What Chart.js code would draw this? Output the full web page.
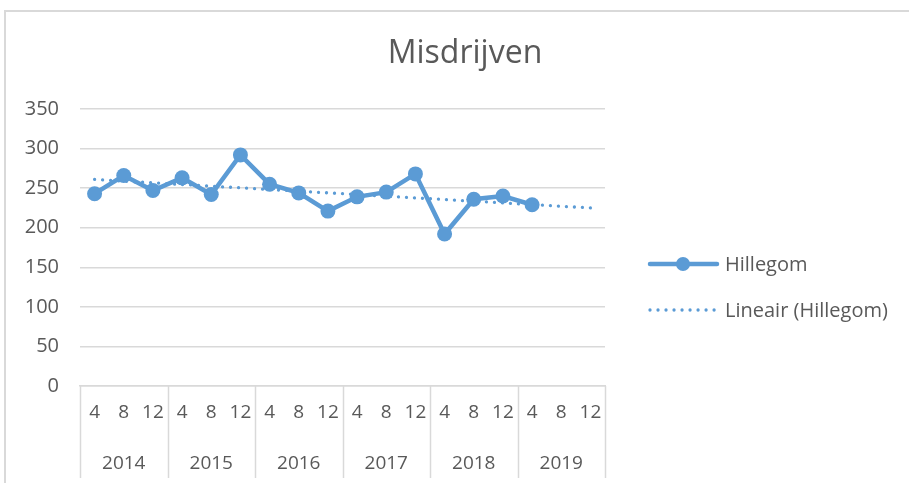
<!DOCTYPE html>
<html>
<head>
<meta charset="utf-8">
<script src="https://cdn.jsdelivr.net/npm/chart.js@4/dist/chart.umd.min.js"></script>
<style>
  body { margin: 0; background: #fff; overflow: hidden; }
  #frame { position: absolute; left: 4px; top: 10px; width: 1000px; height: 1000px;
           border-left: 2px solid #d9d9d9; border-top: 2px solid #d9d9d9; }
  #wrap { position: absolute; left: 0; top: 0; width: 909px; height: 483px; }
</style>
</head>
<body>
<div id="frame"></div>
<div id="wrap"><canvas id="chart" width="909" height="483"></canvas></div>
<script>
// months per year (x axis level 1) and years (level 2)
const years = ['2014', '2015', '2016', '2017', '2018', '2019'];
const months = ['4', '8', '12'];
const labels = [];
years.forEach(y => months.forEach(m => labels.push(m)));

// Hillegom values (2019-8 and 2019-12 empty)
const hillegom = [243, 266, 247, 263, 242, 292, 255, 244, 221, 239, 245, 268, 192, 236, 240, 229, null, null];
// linear trendline: start and end values
const trend = [261, null, null, null, null, null, null, null, null, null, null, null, null, null, null, null, null, 225];
const yTicks = [0, 50, 100, 150, 200, 250, 300, 350];

const blue = '#5b9bd5';
const grey = '#595959';
const font = 'Open Sans';

const excelLook = {
  id: 'excelLook',
  afterDraw(chart) {
    const ctx = chart.ctx;
    const x = chart.scales.x;
    const w = (x.right - x.left) / labels.length;
    ctx.save();
    // year separators + year labels
    ctx.strokeStyle = '#d9d9d9';
    ctx.lineWidth = 1.5;
    for (let i = 0; i <= years.length; i++) {
      const px = Math.round(x.left + i * 3 * w) + 0.5;
      ctx.beginPath();
      ctx.moveTo(px, x.top);
      ctx.lineTo(px, 478);
      ctx.stroke();
    }
    ctx.fillStyle = grey;
    ctx.font = '19px "' + font + '"';
    ctx.textAlign = 'center';
    ctx.textBaseline = 'middle';
    years.forEach((y, i) => {
      ctx.fillText(y, x.left + (i * 3 + 1.5) * w, 464);
    });
    // title
    ctx.font = '32px "' + font + '"';
    ctx.fillText('Misdrijven', 465, 54);
    // legend
    ctx.font = '20px "' + font + '"';
    ctx.textAlign = 'left';
    ctx.fillText('Hillegom', 725, 265);
    ctx.fillText('Lineair (Hillegom)', 725, 311);
    ctx.strokeStyle = blue;
    ctx.lineWidth = 4.5;
    ctx.lineCap = 'round';
    ctx.beginPath();
    ctx.moveTo(650, 264);
    ctx.lineTo(717, 264);
    ctx.stroke();
    ctx.fillStyle = blue;
    ctx.beginPath();
    ctx.arc(683, 264, 7, 0, Math.PI * 2);
    ctx.fill();
    ctx.lineWidth = 3.3;
    ctx.setLineDash([0.01, 8]);
    ctx.beginPath();
    ctx.moveTo(650, 310);
    ctx.lineTo(718, 310);
    ctx.stroke();
    ctx.restore();
  }
};

new Chart(document.getElementById('chart'), {
  type: 'line',
  data: {
    labels: labels,
    datasets: [
      {
        label: 'Hillegom',
        data: hillegom,
        borderColor: blue,
        backgroundColor: blue,
        borderWidth: 4.5,
        pointRadius: 7.5,
        pointHoverRadius: 7.5,
        pointBorderWidth: 0,
        order: 1
      },
      {
        label: 'Lineair (Hillegom)',
        data: trend,
        spanGaps: true,
        borderColor: blue,
        borderWidth: 3.3,
        borderDash: [0.01, 8],
        borderCapStyle: 'round',
        pointRadius: 0,
        order: 0
      }
    ]
  },
  options: {
    responsive: false,
    animation: false,
    layout: { padding: { top: 109, right: 304, bottom: 0, left: 0 } },
    plugins: {
      legend: { display: false },
      title: { display: false },
      tooltip: { enabled: false }
    },
    scales: {
      x: {
        offset: true,
        grid: { display: false, drawTicks: false },
        border: { display: true, color: '#d9d9d9', width: 1.5 },
        ticks: { color: grey, font: { family: font, size: 19 }, padding: 15, maxRotation: 0, autoSkip: false },
        afterFit(scale) { scale.height = 97; }
      },
      y: {
        min: 0,
        max: 350,
        afterBuildTicks(scale) { scale.ticks = yTicks.map(v => ({ value: v })); },
        grid: { color: '#d9d9d9', lineWidth: 1.5, drawTicks: false },
        border: { display: false },
        ticks: { color: grey, font: { family: font, size: 20 }, padding: 21 },
        afterFit(scale) { scale.width = 80; }
      }
    }
  },
  plugins: [excelLook]
});
</script>
</body>
</html>
